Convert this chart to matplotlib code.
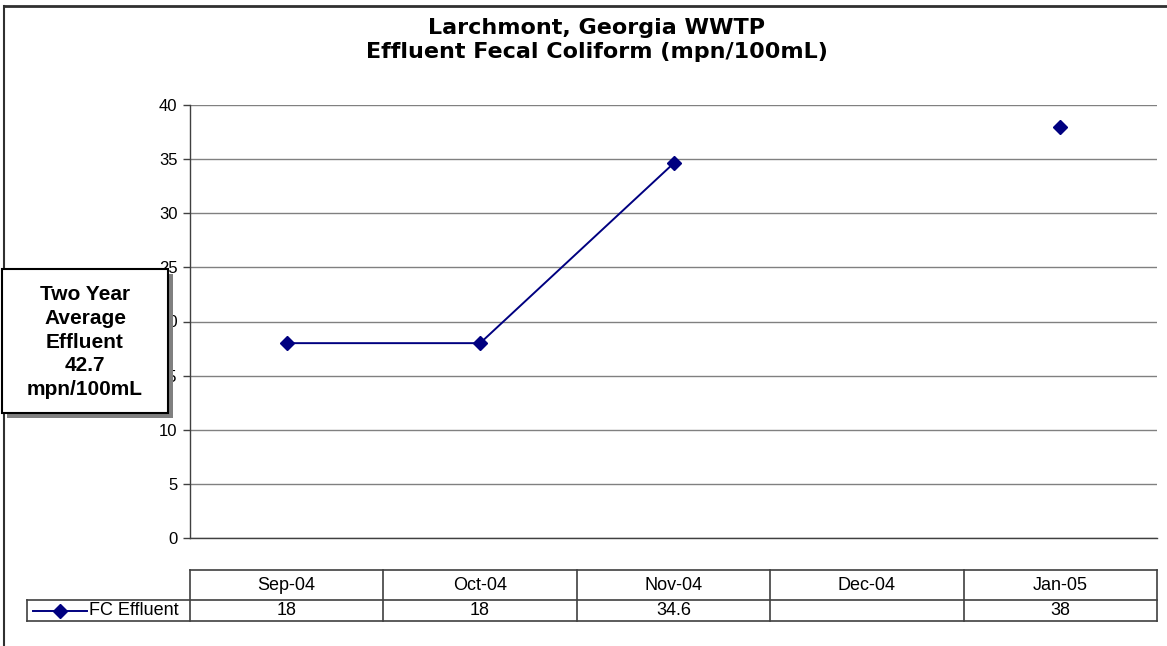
import numpy as np
import matplotlib.pyplot as plt
from matplotlib.patches import Rectangle
from matplotlib.lines import Line2D

months = ['Sep-04', 'Oct-04', 'Nov-04', 'Dec-04', 'Jan-05']
fc_effluent = [18, 18, 34.6, None, 38]
series_name = 'FC Effluent'
title = 'Larchmont, Georgia WWTP\nEffluent Fecal Coliform (mpn/100mL)'
note = 'Two Year\nAverage\nEffluent\n42.7\nmpn/100mL'
yticks = [0, 5, 10, 15, 20, 25, 30, 35, 40]

navy = '#000080'
W, H = 1167, 646
fig = plt.figure(figsize=(W / 100, H / 100), dpi=100)

def fx(px):
    return px / W

def fy(py):
    return 1 - py / H

# outer chart frame (top and left edges visible)
fig.add_artist(Line2D([fx(4), fx(4)], [fy(6), 0], color='#303030', lw=1.5))
fig.add_artist(Line2D([fx(4), 1], [fy(6), fy(6)], color='#303030', lw=2))

# main plot area
left, right, top, bottom = 190, 1157, 105, 538
ax = fig.add_axes([fx(left), fy(bottom), fx(right - left), (bottom - top) / H])
x = np.arange(len(months))
y = np.array([np.nan if v is None else v for v in fc_effluent], dtype=float)
ax.plot(x, y, color=navy, lw=1.4, marker='D', ms=7, mfc=navy, mec=navy, zorder=3)
ax.set_xlim(-0.5, len(months) - 0.5)
ax.set_ylim(0, 40)
ax.set_yticks(yticks)
ax.set_yticklabels([str(t) for t in yticks], fontfamily='Liberation Sans', fontsize=12)
ax.tick_params(axis='y', length=5, width=1, color='#404040', pad=4)
ax.tick_params(axis='x', length=0, labelbottom=False)
ax.yaxis.grid(True, color='#808080', lw=1)
ax.set_axisbelow(True)
for s in ['top', 'right']:
    ax.spines[s].set_visible(False)
for s in ['left', 'bottom']:
    ax.spines[s].set_color('#404040')
    ax.spines[s].set_linewidth(1)

# title
fig.text(fx(597), fy(40), title, ha='center', va='center', fontfamily='DejaVu Sans',
         fontweight='bold', fontsize=16, linespacing=1.3)

# data table below the plot
t_top, t_mid, t_bot = 570, 600, 621
tax = fig.add_axes([fx(left), fy(t_bot), fx(right - left), (t_bot - t_top) / H])
tax.set_xlim(-0.5, len(months) - 0.5)
tax.set_ylim(0, t_bot - t_top)
tax.axis('off')
ym = t_bot - t_mid
yt = t_bot - t_top
colw = (right - left) / len(months)
xlab = -0.5 - (left - 27) / colw
lc = '#404040'
tax.plot([-0.5, len(months) - 0.5], [yt, yt], color=lc, lw=1.2, clip_on=False)
tax.plot([xlab, len(months) - 0.5], [ym, ym], color=lc, lw=1.2, clip_on=False)
tax.plot([xlab, len(months) - 0.5], [0, 0], color=lc, lw=1.2, clip_on=False)
tax.plot([xlab, xlab], [0, ym], color=lc, lw=1.2, clip_on=False)
for i in range(len(months) + 1):
    tax.plot([i - 0.5, i - 0.5], [0, yt], color=lc, lw=1.2, clip_on=False)
for i, m in enumerate(months):
    tax.text(i, (ym + yt) / 2, m, ha='center', va='center',
             fontfamily='Liberation Sans', fontsize=13)
    v = fc_effluent[i]
    if v is not None:
        tax.text(i, ym / 2, f'{v:g}', ha='center', va='center',
                 fontfamily='Liberation Sans', fontsize=13)
# legend key in label cell
k0 = -0.5 - (left - 33) / colw
k1 = -0.5 - (left - 87) / colw
tax.plot([k0, k1], [ym / 2, ym / 2], color=navy, lw=1.4, clip_on=False)
tax.plot([(k0 + k1) / 2], [ym / 2], marker='D', ms=7, color=navy, clip_on=False)
tax.text(-0.5 - (left - 89) / colw, ym / 2, series_name, ha='left', va='center',
         fontfamily='Liberation Sans', fontsize=13, clip_on=False)

# text box with shadow
bx0, by0, bx1, by1 = 2, 269, 168, 413
fig.add_artist(Rectangle((fx(bx0 + 5), fy(by1 + 5)), fx(bx1 - bx0), (by1 - by0) / H,
                         facecolor='#808080', edgecolor='none', zorder=10))
fig.add_artist(Rectangle((fx(bx0), fy(by1)), fx(bx1 - bx0), (by1 - by0) / H,
                         facecolor='white', edgecolor='black', lw=1.5, zorder=11))
fig.text(fx((bx0 + bx1) / 2), fy(342), note, ha='center', va='center',
         fontfamily='Liberation Sans', fontweight='bold', fontsize=15,
         linespacing=1.33, zorder=12)

fig.savefig('out.png', dpi=100)
